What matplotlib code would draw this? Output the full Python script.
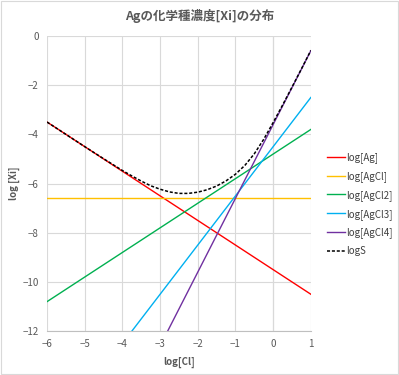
import matplotlib
matplotlib.use('Agg')
import matplotlib.pyplot as plt
from matplotlib.patches import Rectangle

plt.rcParams['font.family'] = ['Noto Sans CJK JP', 'DejaVu Sans']

# straight-line species (end points)
x_ends = [-6, 1]
log_ag = [-3.5, -10.5]
log_agcl = [-6.6, -6.6]
log_agcl2 = [-10.8, -3.8]
log_agcl3 = [-16.5, -2.5]
log_agcl4 = [-21.6, -0.6]

# total solubility curve
x_s = [-6, -5.5, -5, -4.5, -4, -3.75, -3.5, -3.25, -3, -2.75, -2.5, -2.25, -2,
       -1.75, -1.5, -1.25, -1, -0.75, -0.5, -0.25, 0, 0.25, 0.5, 0.75, 1]
log_s = [-3.50, -4.00, -4.50, -4.99, -5.47, -5.69, -5.90, -6.09, -6.23, -6.34,
         -6.40, -6.40, -6.35, -6.25, -6.10, -5.89, -5.62, -5.26, -4.79, -4.20,
         -3.52, -2.81, -2.08, -1.34, -0.59]

series = [
    ('log[Ag]', log_ag, '#FF0000'),
    ('log[AgCl]', log_agcl, '#FFC000'),
    ('log[AgCl2]', log_agcl2, '#00B050'),
    ('log[AgCl3]', log_agcl3, '#00B0F0'),
    ('log[AgCl4]', log_agcl4, '#7030A0'),
]

fig = plt.figure(figsize=(3.99, 3.75), dpi=100)
ax = fig.add_axes([0.118, 0.117, 0.661, 0.787])

for name, vals, col in series:
    ax.plot(x_ends, vals, color=col, lw=1.0, label=name)
ax.plot(x_s, log_s, color='black', lw=1.1, ls=(0, (2, 1.2)), label='logS')

ax.set_xlim(-6, 1)
ax.set_ylim(-12, 0)
ax.set_xticks(range(-6, 2))
ax.set_yticks(range(-12, 1, 2))
ax.grid(True, color='#D9D9D9', lw=0.8)
ax.set_axisbelow(True)
ax.axvline(0, color='#BFBFBF', lw=0.8, zorder=0.5)
for s in ['top', 'right', 'left']:
    ax.spines[s].set_visible(False)
ax.spines['bottom'].set_color('#BFBFBF')
ax.spines['bottom'].set_linewidth(0.8)
ax.tick_params(length=0, labelsize=7, colors='#595959', pad=6)

ax.set_xlabel('log[Cl]', fontsize=7, fontweight='bold', color='#595959', labelpad=5)
ax.set_ylabel('log [Xi]', fontsize=7, fontweight='bold', color='#595959', labelpad=2)
fig.text(0.5, 0.958, 'Agの化学種濃度[Xi]の分布', ha='center', va='center',
         fontsize=9, fontweight='bold', color='#595959')

leg = ax.legend(loc='upper left', bbox_to_anchor=(1.045, 0.62), frameon=False,
                fontsize=7, labelcolor='#404040', handlelength=1.85,
                handletextpad=0.2, labelspacing=0.82, borderaxespad=0)

fig.patches.append(Rectangle((0.002, 0.002), 0.995, 0.995, transform=fig.transFigure,
                             fill=False, edgecolor='#D9D9D9', lw=0.8))

fig.savefig('out.png', dpi=100)
